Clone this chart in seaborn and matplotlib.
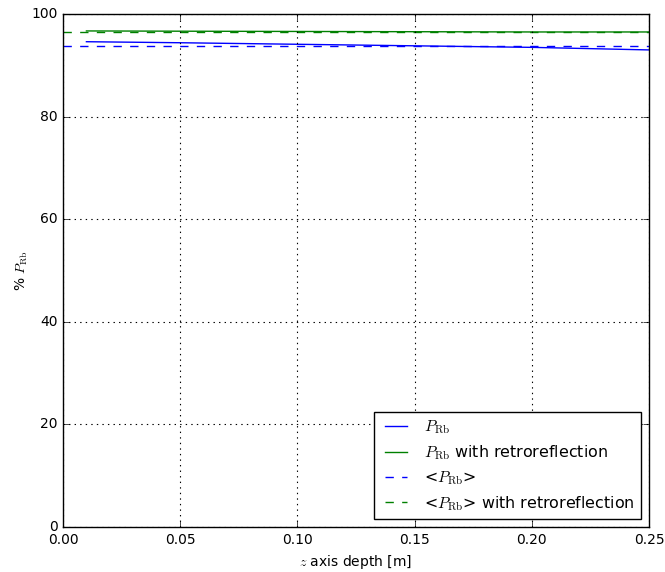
import matplotlib
matplotlib.use("Agg")
import matplotlib.pyplot as plt
import seaborn as sns
import numpy as np
import pandas as pd

# Polarisation along the cell depth
z_depth = [0.01, 0.05, 0.10, 0.15, 0.20, 0.25]
p_rb = [94.6, 94.4, 94.1, 93.8, 93.5, 93.0]
p_rb_retro = [96.7, 96.65, 96.6, 96.55, 96.5, 96.5]

# Depth-averaged values, drawn across the full axis
z_span = [0.0, 0.25]
p_rb_mean = [93.85, 93.85]
p_rb_retro_mean = [96.45, 96.45]

plt.style.use("classic")
plt.rcParams["figure.facecolor"] = "white"
plt.rcParams["savefig.facecolor"] = "white"

fig = plt.figure(figsize=(6.65, 5.72), dpi=100)
ax = fig.add_axes([0.0947, 0.0787, 0.8813, 0.8968])

sns.lineplot(x=z_depth, y=p_rb, ax=ax, color="b", lw=1.0,
             label=r"$P_{\rm Rb}$")
sns.lineplot(x=z_depth, y=p_rb_retro, ax=ax, color="g", lw=1.0,
             label=r"$P_{\rm Rb}$ with retroreflection")
sns.lineplot(x=z_span, y=p_rb_mean, ax=ax, color="b", lw=1.0,
             linestyle="--", label=r"<$P_{\rm Rb}$>")
sns.lineplot(x=z_span, y=p_rb_retro_mean, ax=ax, color="g", lw=1.0,
             linestyle="--", label=r"<$P_{\rm Rb}$> with retroreflection")

ax.set_xlim(0, 0.25)
ax.set_ylim(0, 100)
ax.set_xticks([0.0, 0.05, 0.10, 0.15, 0.20, 0.25])
ax.set_xticklabels(["0.00", "0.05", "0.10", "0.15", "0.20", "0.25"])
ax.set_yticks([0, 20, 40, 60, 80, 100])
ax.tick_params(labelsize=10)
ax.grid(True, color="black", linestyle=":", linewidth=0.8)

ax.set_xlabel(r"$z$ axis depth [m]", fontsize=10)
ax.set_ylabel(r"% $P_{\rm Rb}$", fontsize=10, labelpad=1)

leg = ax.legend(loc="lower right", fontsize=11.4, fancybox=False,
                framealpha=1, edgecolor="black", handletextpad=0.8,
                labelspacing=0.45, borderaxespad=0.5)
leg.get_frame().set_linewidth(1.0)

fig.savefig("out.png", dpi=100)
